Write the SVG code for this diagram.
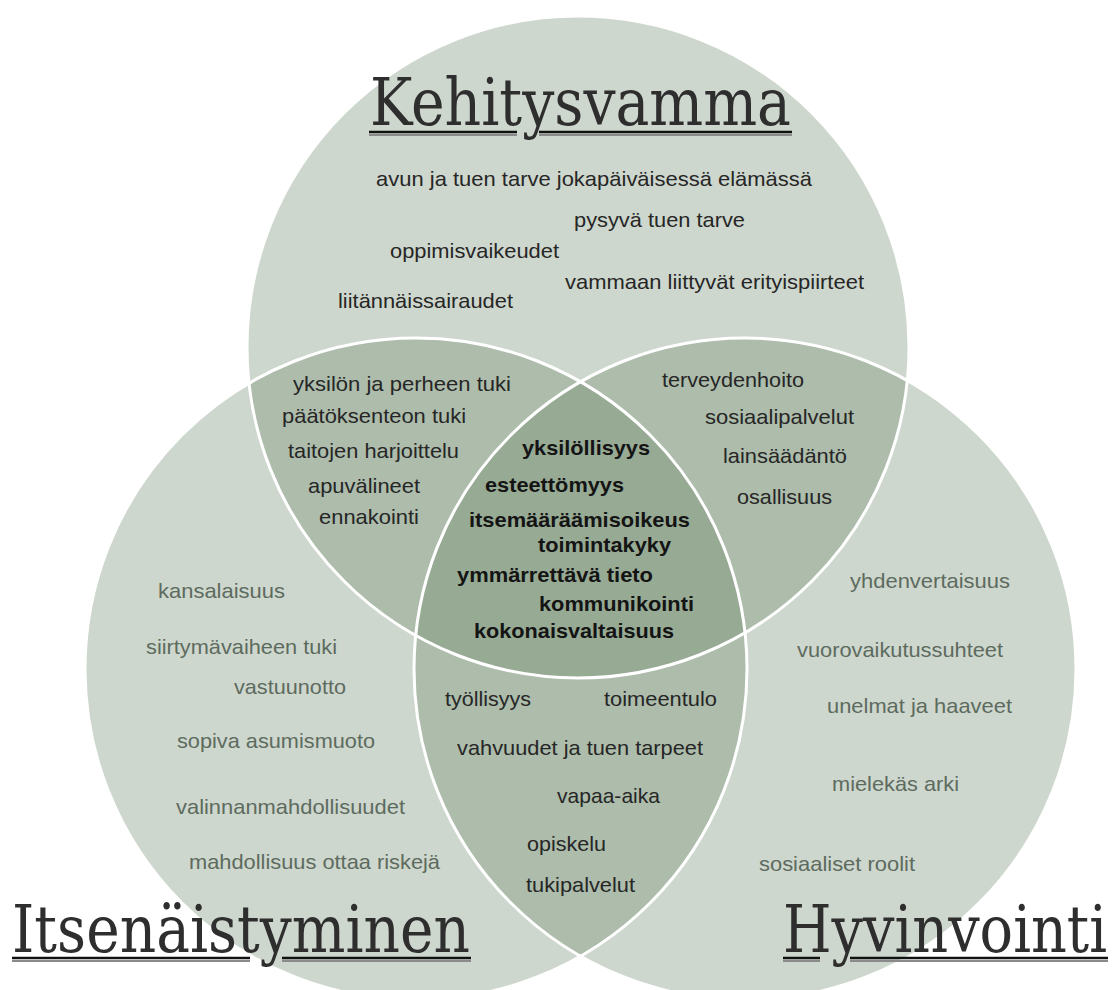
<svg xmlns="http://www.w3.org/2000/svg" width="1114" height="990" viewBox="0 0 1114 990">
<style>
.fill{fill:#6a8566;fill-opacity:0.33}
.ring{fill:none;stroke:#ffffff;stroke-width:3}
.t{font-family:"Liberation Sans",Arial,sans-serif;font-size:21px;fill:#262626}
.c{font-family:"Liberation Sans",Arial,sans-serif;font-size:21px;font-weight:bold;fill:#141414}
.o{font-family:"Liberation Sans",Arial,sans-serif;font-size:21px;fill:#5d6b5f}
.title{font-family:"DejaVu Serif","Liberation Serif",serif;font-size:66px;fill:#2e2e2e}
.ul{stroke:#111;stroke-width:2.6}
.ulsh{stroke:#8a8a8a;stroke-width:2}
</style>
<rect width="1114" height="990" fill="#ffffff"/>
<g id="circles">
  <g id="set-kehitysvamma"><circle class="fill" cx="578" cy="347" r="331"/></g>
  <g id="set-itsenaistyminen"><circle class="fill" cx="416" cy="669" r="331"/></g>
  <g id="set-hyvinvointi"><circle class="fill" cx="745" cy="669" r="331"/></g>
</g>
<g id="connectors">
  <circle class="ring" cx="578" cy="347" r="331"/>
  <circle class="ring" cx="416" cy="669" r="331"/>
  <circle class="ring" cx="745" cy="669" r="331"/>
</g>
<g id="title-kehitysvamma">
  <text class="title" x="370" y="125" textLength="421" lengthAdjust="spacingAndGlyphs">Kehitysvamma</text>
  <line class="ulsh" x1="369" y1="135" x2="517" y2="135"/><line class="ulsh" x1="539" y1="135" x2="792" y2="135"/>
  <line class="ul" x1="369" y1="132" x2="517" y2="132"/><line class="ul" x1="539" y1="132" x2="792" y2="132"/>
</g>
<g id="title-itsenaistyminen">
  <text class="title" x="12" y="952" textLength="458" lengthAdjust="spacingAndGlyphs">Itsenäistyminen</text>
  <line class="ulsh" x1="12" y1="961" x2="250" y2="961"/><line class="ulsh" x1="282" y1="961" x2="471" y2="961"/>
  <line class="ul" x1="12" y1="958" x2="250" y2="958"/><line class="ul" x1="282" y1="958" x2="471" y2="958"/>
</g>
<g id="title-hyvinvointi">
  <text class="title" x="783" y="952" textLength="324" lengthAdjust="spacingAndGlyphs">Hyvinvointi</text>
  <line class="ulsh" x1="783" y1="961" x2="820" y2="961"/><line class="ulsh" x1="850" y1="961" x2="1108" y2="961"/>
  <line class="ul" x1="783" y1="958" x2="820" y2="958"/><line class="ul" x1="850" y1="958" x2="1108" y2="958"/>
</g>
<g id="region-kehitysvamma">
  <text class="t" x="376" y="186" textLength="436" lengthAdjust="spacingAndGlyphs">avun ja tuen tarve jokapäiväisessä elämässä</text>
  <text class="t" x="574" y="227" textLength="171" lengthAdjust="spacingAndGlyphs">pysyvä tuen tarve</text>
  <text class="t" x="390" y="258" textLength="169" lengthAdjust="spacingAndGlyphs">oppimisvaikeudet</text>
  <text class="t" x="565" y="289" textLength="299" lengthAdjust="spacingAndGlyphs">vammaan liittyvät erityispiirteet</text>
  <text class="t" x="338" y="308" textLength="175" lengthAdjust="spacingAndGlyphs">liitännäissairaudet</text>
</g>
<g id="region-kehitysvamma-itsenaistyminen">
  <text class="t" x="293" y="391" textLength="218" lengthAdjust="spacingAndGlyphs">yksilön ja perheen tuki</text>
  <text class="t" x="282" y="423" textLength="184" lengthAdjust="spacingAndGlyphs">päätöksenteon tuki</text>
  <text class="t" x="288" y="458" textLength="171" lengthAdjust="spacingAndGlyphs">taitojen harjoittelu</text>
  <text class="t" x="308" y="493" textLength="112" lengthAdjust="spacingAndGlyphs">apuvälineet</text>
  <text class="t" x="319" y="524" textLength="100" lengthAdjust="spacingAndGlyphs">ennakointi</text>
</g>
<g id="region-kehitysvamma-hyvinvointi">
  <text class="t" x="662" y="387" textLength="142" lengthAdjust="spacingAndGlyphs">terveydenhoito</text>
  <text class="t" x="705" y="424" textLength="149" lengthAdjust="spacingAndGlyphs">sosiaalipalvelut</text>
  <text class="t" x="723" y="463" textLength="124" lengthAdjust="spacingAndGlyphs">lainsäädäntö</text>
  <text class="t" x="737" y="504" textLength="95" lengthAdjust="spacingAndGlyphs">osallisuus</text>
</g>
<g id="region-center">
  <text class="c" x="522" y="455" textLength="128" lengthAdjust="spacingAndGlyphs">yksilöllisyys</text>
  <text class="c" x="485" y="492" textLength="139" lengthAdjust="spacingAndGlyphs">esteettömyys</text>
  <text class="c" x="469" y="527" textLength="221" lengthAdjust="spacingAndGlyphs">itsemääräämisoikeus</text>
  <text class="c" x="538" y="552" textLength="133" lengthAdjust="spacingAndGlyphs">toimintakyky</text>
  <text class="c" x="457" y="582" textLength="196" lengthAdjust="spacingAndGlyphs">ymmärrettävä tieto</text>
  <text class="c" x="539" y="611" textLength="155" lengthAdjust="spacingAndGlyphs">kommunikointi</text>
  <text class="c" x="474" y="638" textLength="200" lengthAdjust="spacingAndGlyphs">kokonaisvaltaisuus</text>
</g>
<g id="region-itsenaistyminen-hyvinvointi">
  <text class="t" x="445" y="706" textLength="86" lengthAdjust="spacingAndGlyphs">työllisyys</text>
  <text class="t" x="604" y="706" textLength="113" lengthAdjust="spacingAndGlyphs">toimeentulo</text>
  <text class="t" x="457" y="755" textLength="246" lengthAdjust="spacingAndGlyphs">vahvuudet ja tuen tarpeet</text>
  <text class="t" x="557" y="803" textLength="103" lengthAdjust="spacingAndGlyphs">vapaa-aika</text>
  <text class="t" x="527" y="851" textLength="79" lengthAdjust="spacingAndGlyphs">opiskelu</text>
  <text class="t" x="526" y="892" textLength="109" lengthAdjust="spacingAndGlyphs">tukipalvelut</text>
</g>
<g id="region-itsenaistyminen">
  <text class="o" x="158" y="598" textLength="127" lengthAdjust="spacingAndGlyphs">kansalaisuus</text>
  <text class="o" x="146" y="654" textLength="191" lengthAdjust="spacingAndGlyphs">siirtymävaiheen tuki</text>
  <text class="o" x="234" y="694" textLength="112" lengthAdjust="spacingAndGlyphs">vastuunotto</text>
  <text class="o" x="177" y="748" textLength="198" lengthAdjust="spacingAndGlyphs">sopiva asumismuoto</text>
  <text class="o" x="176" y="814" textLength="229" lengthAdjust="spacingAndGlyphs">valinnanmahdollisuudet</text>
  <text class="o" x="189" y="869" textLength="251" lengthAdjust="spacingAndGlyphs">mahdollisuus ottaa riskejä</text>
</g>
<g id="region-hyvinvointi">
  <text class="o" x="850" y="588" textLength="160" lengthAdjust="spacingAndGlyphs">yhdenvertaisuus</text>
  <text class="o" x="797" y="657" textLength="206" lengthAdjust="spacingAndGlyphs">vuorovaikutussuhteet</text>
  <text class="o" x="827" y="713" textLength="185" lengthAdjust="spacingAndGlyphs">unelmat ja haaveet</text>
  <text class="o" x="832" y="791" textLength="127" lengthAdjust="spacingAndGlyphs">mielekäs arki</text>
  <text class="o" x="759" y="871" textLength="156" lengthAdjust="spacingAndGlyphs">sosiaaliset roolit</text>
</g>
</svg>
